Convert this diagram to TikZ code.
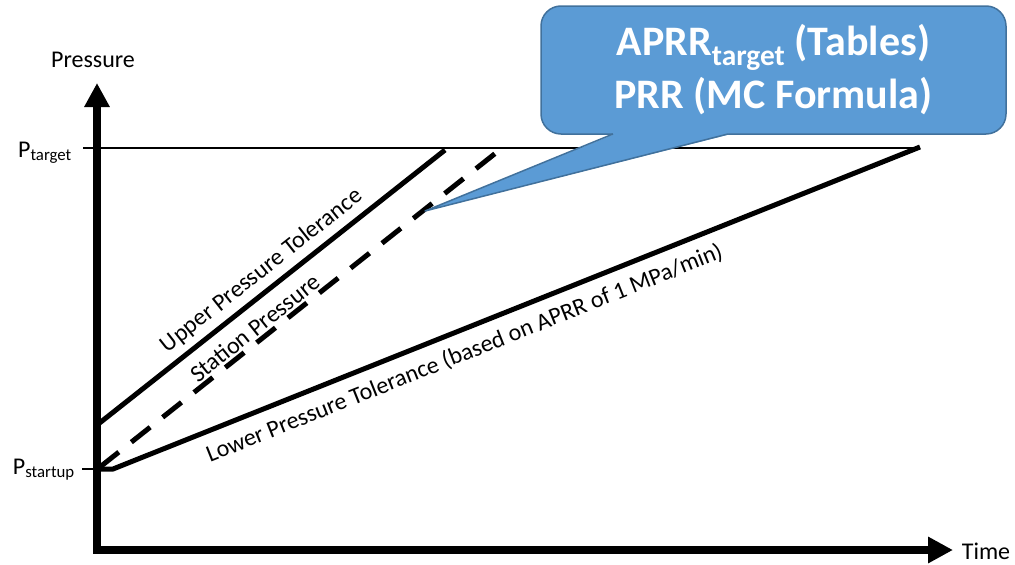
\documentclass[tikz,border=0pt]{standalone}
\usepackage{fontspec}
\setmainfont{Carlito}
\usepackage{tikz}
\usetikzlibrary{arrows.meta}

\definecolor{calloutblue}{RGB}{91,155,213}
\definecolor{calloutedge}{RGB}{65,113,156}

\begin{document}
\begin{tikzpicture}[x=1pt,y=-1pt,
    axis/.style={line width=8pt},
    tol/.style={line width=5pt},
    lbl/.style={font=\fontsize{24}{28}\selectfont,inner sep=2pt}]
  \useasboundingbox (0,0) rectangle (1015,565);
  \coordinate (o) at (97,550);
  \coordinate (ytip) at (97,83);
  \coordinate (xtip) at (953,550);
  \draw[axis,{Triangle[length=24pt,width=24pt]}-{Triangle[length=25pt,width=25pt]}] (ytip) -- (o) -- (xtip);
  \node[lbl] (ylab) at (93,60) {Pressure};
  \node[lbl] (xlab) at (986,551) {Time};
  \coordinate (ttick) at (83,148);
  \coordinate (tend) at (920,148);
  \coordinate (stick) at (82,469);
  \coordinate (sbase) at (97,469);
  \draw[line width=1.5pt] (ttick) -- (tend);
  \draw[line width=1.5pt] (stick) -- (sbase);
  \node[lbl,anchor=base east] (ptarget) at (74,157) {P\textsubscript{target}};
  \node[lbl,anchor=base east] (pstartup) at (77,474) {P\textsubscript{startup}};
  \coordinate (u0) at (97,425);
  \coordinate (u1) at (445,150);
  \draw[tol] (u0) -- node[lbl,sloped,above=4pt,pos=0.507] (upper) {Upper Pressure Tolerance} (u1);
  \coordinate (s0) at (100,467);
  \coordinate (s1) at (497,152);
  \draw[tol,dash pattern=on 24pt off 16pt] (s0) -- node[lbl,sloped,above=0pt,pos=0.41] (station) {Station Pressure} (s1);
  \coordinate (l1) at (113,469);
  \coordinate (l2) at (920,147);
  \draw[tol] (sbase) -- (l1) -- node[lbl,sloped,below=8pt,pos=0.425] (lower) {Lower Pressure Tolerance (based on APRR of 1 MPa/min)} (l2);
  \node[draw=calloutedge,fill=calloutblue,line width=1.5pt,rounded corners=20pt,
    minimum width=465pt,minimum height=128pt,text=white,align=center,
    font=\fontsize{42}{53}\selectfont\bfseries] (note) at (773.5,70)
    {APRR\textsubscript{target} (Tables)\\PRR (MC Formula)};
  \coordinate (tip) at (425,211);
  \coordinate (bl) at (613,134);
  \coordinate (br) at (728,134);
  \fill[calloutblue] (tip) -- (613,134.7) -- (613,126) -- (728,126) -- (728,134.7) -- cycle;
  \draw[calloutedge,line width=1.5pt,line join=round] (bl) -- (tip) -- (br);
\end{tikzpicture}
\end{document}
